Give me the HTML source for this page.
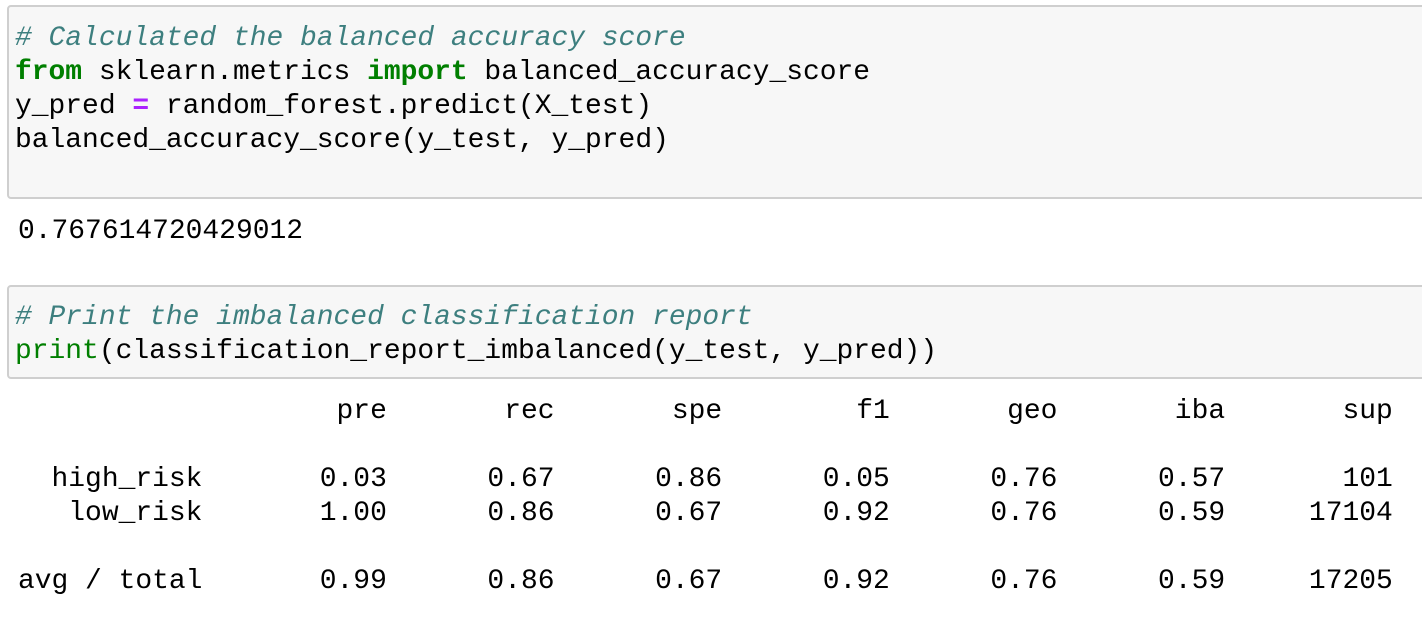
<!DOCTYPE html>
<html><head><meta charset="utf-8">
<style>
body{margin:0;width:1422px;height:624px;background:#fff;overflow:hidden;position:relative;font-family:"Liberation Mono",monospace;}
.box{position:absolute;left:7px;width:1420px;background:#f7f7f7;border:2px solid #cfcfcf;border-radius:4px;box-sizing:border-box;}
pre{position:absolute;margin:0;font-family:"Liberation Mono",monospace;font-size:27.95px;line-height:34px;color:#000;white-space:pre;}
.c{color:#3d7f7f;font-style:italic;}
.k{color:#007f00;font-weight:bold;}
.b{color:#007f00;}
.o{color:#aa22ff;font-weight:bold;}
</style></head><body>
<div class="box" style="top:5px;height:194px;"></div>
<pre style="left:15px;top:22px;"><span class="c"># Calculated the balanced accuracy score</span>
<span class="k">from</span> sklearn.metrics <span class="k">import</span> balanced_accuracy_score
y_pred <span class="o">=</span> random_forest.predict(X_test)
balanced_accuracy_score(y_test, y_pred)</pre>
<pre style="left:18px;top:215px;">0.767614720429012</pre>
<div class="box" style="top:285px;height:94px;"></div>
<pre style="left:15px;top:301px;"><span class="c"># Print the imbalanced classification report</span>
<span class="b">print</span>(classification_report_imbalanced(y_test, y_pred))</pre>
<pre style="left:18px;top:395px;">                   pre       rec       spe        f1       geo       iba       sup

  high_risk       0.03      0.67      0.86      0.05      0.76      0.57       101
   low_risk       1.00      0.86      0.67      0.92      0.76      0.59     17104

avg / total       0.99      0.86      0.67      0.92      0.76      0.59     17205</pre>
</body></html>
